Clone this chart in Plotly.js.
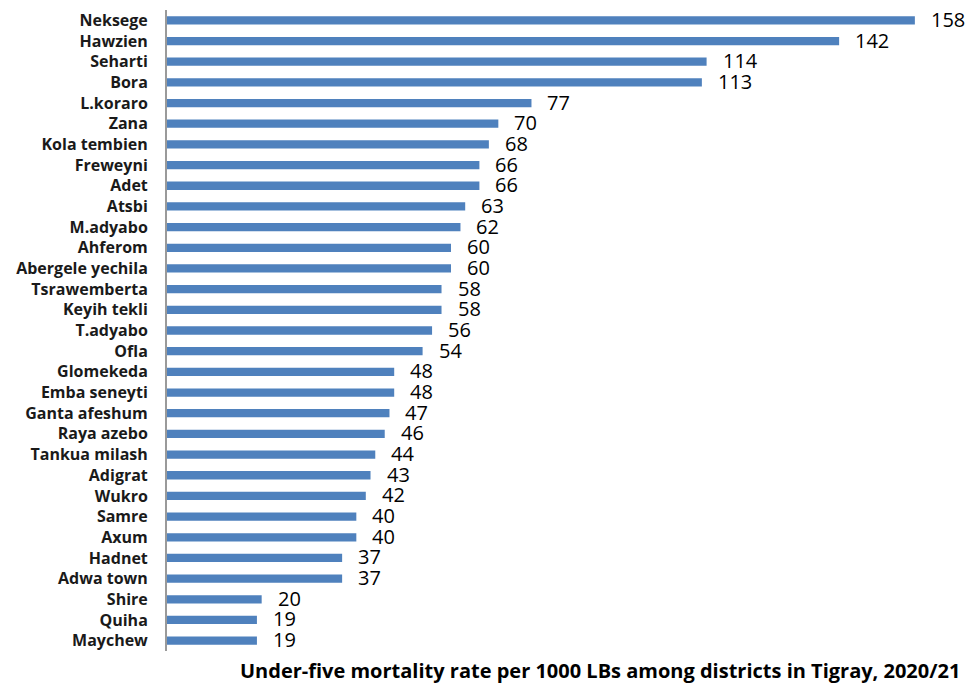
<!DOCTYPE html>
<html><head><meta charset="utf-8">
<script src="https://cdn.plot.ly/plotly-3.0.1.min.js"></script>
<style>html,body{margin:0;padding:0;background:#fff}#chart{width:968px;height:685px}</style>
</head><body><div id="chart"></div>
<script>
const districts = ["Neksege","Hawzien","Seharti","Bora","L.koraro","Zana","Kola tembien","Freweyni","Adet","Atsbi","M.adyabo","Ahferom","Abergele yechila","Tsrawemberta","Keyih tekli","T.adyabo","Ofla","Glomekeda","Emba seneyti","Ganta afeshum","Raya azebo","Tankua milash","Adigrat","Wukro","Samre","Axum","Hadnet","Adwa town","Shire","Quiha","Maychew"];
const u5mr = [158,142,114,113,77,70,68,66,66,63,62,60,60,58,58,56,54,48,48,47,46,44,43,42,40,40,37,37,20,19,19];
const chartTitle = "Under-five mortality rate per 1000 LBs among districts in Tigray, 2020/21";

const trace = {
  type: 'bar', orientation: 'h',
  y: districts, x: u5mr,
  marker: {color: '#4F81BD'},
  width: 0.4,
  hoverinfo: 'x+y'
};
const annotations = districts.map((d, i) => ({
  x: u5mr[i], y: d, xref: 'x', yref: 'y',
  text: String(u5mr[i]), showarrow: false,
  xanchor: 'left', yanchor: 'middle', xshift: 14, yshift: 1,
  font: {family: 'Open Sans, sans-serif', size: 20, color: '#000'}
}));
annotations.push({
  text: '<b>' + chartTitle + '</b>', xref: 'paper', yref: 'paper',
  x: 0.555, y: 0, xanchor: 'center', yanchor: 'top', yshift: -4,
  showarrow: false,
  font: {family: 'Open Sans, sans-serif', size: 20, color: '#000'}
});
const layout = {
  width: 968, height: 685,
  margin: {l: 167, r: 20, t: 10, b: 34},
  paper_bgcolor: '#fff', plot_bgcolor: '#fff',
  showlegend: false,
  xaxis: {range: [0, 165], visible: false, fixedrange: true},
  yaxis: {
    range: [30.5, -0.5], type: 'category',
    showline: true, linecolor: '#9a9a9a', linewidth: 2,
    ticks: '', ticklabelstandoff: 14, showgrid: false, zeroline: false,
    tickfont: {family: 'Open Sans, sans-serif', size: 16, color: '#1a1a1a', weight: 'bold'}
  },
  annotations: annotations
};
Plotly.newPlot('chart', [trace], layout, {displayModeBar: false, staticPlot: true});
</script></body></html>
